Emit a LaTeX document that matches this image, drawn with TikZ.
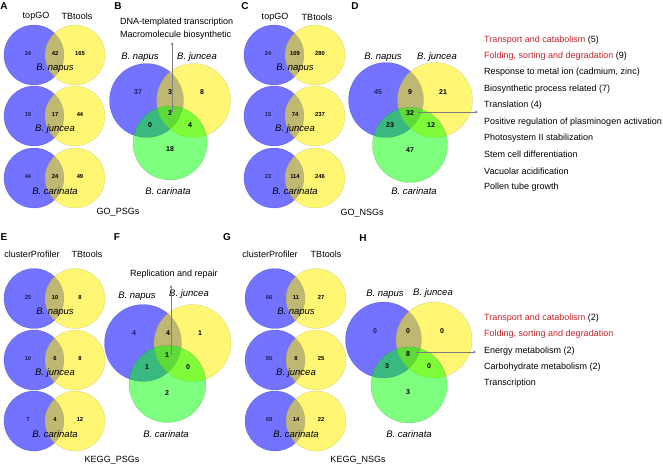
\documentclass[tikz,border=0pt]{standalone}
\usepackage{fontspec}
\setmainfont{Liberation Sans}
\usetikzlibrary{arrows.meta}

\definecolor{termred}{RGB}{190,38,44}
\definecolor{numnavy}{RGB}{30,30,95}
\definecolor{arrowgray}{RGB}{125,125,125}

\tikzset{
  setblue/.style={fill=blue, fill opacity=0.55, draw=blue!60!black, draw opacity=0.3, line width=0.4pt},
  setyellow/.style={fill=yellow, fill opacity=0.55, draw=yellow!50!black, draw opacity=0.3, line width=0.4pt},
  setgreen/.style={fill=green, fill opacity=0.5, draw=green!50!black, draw opacity=0.3, line width=0.4pt},
  panel/.style={font=\fontsize{10}{12}\selectfont\bfseries, inner sep=0pt},
  lbl/.style={font=\fontsize{9}{11}\selectfont, inner sep=0pt},
  spc/.style={font=\fontsize{9.5}{11}\selectfont\itshape, inner sep=0pt},
  numS/.style={font=\fontsize{5.8}{7}\selectfont\bfseries, inner sep=0pt},
  numL/.style={font=\fontsize{7}{8}\selectfont\bfseries, inner sep=0pt},
  term/.style={font=\fontsize{9}{11}\selectfont, inner sep=0pt, anchor=west},
  pointer/.style={-{Stealth[length=3pt, width=2.6pt]}, arrowgray, line width=0.9pt}
}

\begin{document}
\begin{tikzpicture}[x=1pt, y=-1pt]
		\useasboundingbox (0,0) rectangle (663,467);
		\fill [white] (0,0) rectangle (663,467);
		
		%two-set venn: name, x of left circle, y of row, three counts, species
		\def\pairvenn#1#2#3#4#5#6#7{%
			\draw [setblue] (#2,#3) circle [radius=30];
			\draw [setyellow] (#2+41,#3) circle [radius=30];
			\node [numS, text=numnavy] (#1-l) at (#2-6,#3-1.5) {#4};
			\node [numS] (#1-m) at (#2+21,#3-1.5) {#5};
			\node [numS] (#1-r) at (#2+46,#3-1.5) {#6};
			\node [spc] (#1-s) at (#2+21,#3+13.5) {#7};
		}
		
		%panel letters
		\node [panel] (lA) at (4,6) {A};
		\node [panel] (lB) at (118,6) {B};
		\node [panel] (lC) at (245,6) {C};
		\node [panel] (lD) at (355,6) {D};
		\node [panel] (lE) at (4,237) {E};
		\node [panel] (lF) at (117,237) {F};
		\node [panel] (lG) at (227,237) {G};
		\node [panel] (lH) at (363,238) {H};
		
		%A: GO, positively selected genes
		\node [lbl] (Atop) at (36,16) {topGO};
		\node [lbl] (Atb) at (77,16) {TBtools};
		\pairvenn{An}{34}{55}{24}{42}{165}{B. napus}
		\pairvenn{Aj}{34}{116}{19}{17}{44}{B. juncea}
		\pairvenn{Ac}{34}{178}{44}{24}{49}{B. carinata}
		\node [lbl] (GOpsg) at (118,212) {GO\_PSGs};
		
		%B: three species
		\draw [setblue] (146.5,100.5) circle [radius=37];
		\draw [setyellow] (193.5,100.5) circle [radius=37];
		\draw [setgreen] (170,143) circle [radius=37];
		\node [spc] (Bnap) at (140,57) {B. napus};
		\node [spc] (Bjun) at (197,57) {B. juncea};
		\node [spc] (Bcar) at (168,191) {B. carinata};
		\node [numL, text=numnavy] (B1) at (138,92) {37};
		\node [numL] (B2) at (170,92) {3};
		\node [numL] (B3) at (202,92) {8};
		\node [numL] (B4) at (170,113) {2};
		\node [numL] (B5) at (150,125) {0};
		\node [numL] (B6) at (190,125) {4};
		\node [numL] (B7) at (170,149) {18};
		\node [lbl, anchor=west] (Bt1) at (120,22) {DNA-templated transcription};
		\node [lbl, anchor=west] (Bt2) at (120,35) {Macromolecule biosynthetic};
		\coordinate (Bfrom) at (172,112);
		\coordinate (Bto) at (172,42);
		\draw [pointer] (Bfrom) -- (Bto);
		
		%C: GO, negatively selected genes
		\node [lbl] (Ctop) at (275,17) {topGO};
		\node [lbl] (Ctb) at (317,17) {TBtools};
		\pairvenn{Cn}{274}{55}{24}{109}{280}{B. napus}
		\pairvenn{Cj}{274}{116}{15}{74}{237}{B. juncea}
		\pairvenn{Cc}{274}{178}{22}{114}{246}{B. carinata}
		\node [lbl] (GOnsg) at (362,213) {GO\_NSGs};
		
		%D: three species
		\draw [setblue] (386,100) circle [radius=37.5];
		\draw [setyellow] (435,100) circle [radius=37.5];
		\draw [setgreen] (410,145) circle [radius=37.5];
		\node [spc] (Dnap) at (383,57) {B. napus};
		\node [spc] (Djun) at (437,57) {B. juncea};
		\node [spc] (Dcar) at (414,191) {B. carinata};
		\node [numL, text=numnavy] (D1) at (378,92) {45};
		\node [numL] (D2) at (410,92) {9};
		\node [numL] (D3) at (443,92) {21};
		\node [numL] (D4) at (410,113) {32};
		\node [numL] (D5) at (390,125) {23};
		\node [numL] (D6) at (431,125) {12};
		\node [numL] (D7) at (410,150) {47};
		\coordinate (Dfrom) at (418,112);
		\coordinate (Dto) at (478,112);
		\draw [pointer] (Dfrom) -- (Dto);
		
		%terms of panel D
		\node [term] (Dt1) at (484,40) {\textcolor{termred}{Transport and catabolism} (5)};
		\node [term] (Dt2) at (484,56) {\textcolor{termred}{Folding, sorting and degradation} (9)};
		\node [term] (Dt3) at (484,72.5) {Response to metal ion (cadmium, zinc)};
		\node [term] (Dt4) at (484,89) {Biosynthetic process related (7)};
		\node [term] (Dt5) at (484,105.5) {Translation (4)};
		\node [term] (Dt6) at (484,122) {Positive regulation of plasminogen activation};
		\node [term] (Dt7) at (484,138) {Photosystem II stabilization};
		\node [term] (Dt8) at (484,154.5) {Stem cell differentiation};
		\node [term] (Dt9) at (484,171) {Vacuolar acidification};
		\node [term] (Dt10) at (484,187) {Pollen tube growth};
		
		%E: KEGG, positively selected genes
		\node [lbl] (Ecp) at (32,254) {clusterProfiler};
		\node [lbl] (Etb) at (87,254) {TBtools};
		\pairvenn{En}{34}{298.5}{25}{10}{8}{B. napus}
		\pairvenn{Ej}{34}{360}{10}{6}{8}{B. juncea}
		\pairvenn{Ec}{34}{421}{7}{4}{12}{B. carinata}
		\node [lbl] (KEGGpsg) at (112,460) {KEGG\_PSGs};
		
		%F: three species
		\draw [setblue] (143,343) circle [radius=38.5];
		\draw [setyellow] (192.5,343) circle [radius=38.5];
		\draw [setgreen] (167.5,384) circle [radius=38.5];
		\node [spc] (Fnap) at (137,296) {B. napus};
		\node [spc] (Fjun) at (189,294) {B. juncea};
		\node [spc] (Fcar) at (166,434) {B. carinata};
		\node [numL, text=numnavy] (F1) at (134,333) {4};
		\node [numL] (F2) at (168,333) {4};
		\node [numL] (F3) at (200,333) {1};
		\node [numL] (F4) at (167,355) {1};
		\node [numL] (F5) at (147,367) {1};
		\node [numL] (F6) at (188,367) {0};
		\node [numL] (F7) at (167,393) {2};
		\node [lbl, anchor=west] (Ft1) at (130,274) {Replication and repair};
		\coordinate (Ffrom) at (171,355);
		\coordinate (Fto) at (171,285);
		\draw [pointer] (Ffrom) -- (Fto);
		
		%G: KEGG, negatively selected genes
		\node [lbl] (Gcp) at (270,254) {clusterProfiler};
		\node [lbl] (Gtb) at (326,254) {TBtools};
		\pairvenn{Gn}{275}{298.5}{66}{11}{27}{B. napus}
		\pairvenn{Gj}{275}{360}{55}{8}{25}{B. juncea}
		\pairvenn{Gc}{275}{421}{68}{14}{22}{B. carinata}
		\node [lbl] (KEGGnsg) at (358,460) {KEGG\_NSGs};
		
		%H: three species
		\draw [setblue] (383.5,340) circle [radius=38];
		\draw [setyellow] (434,340) circle [radius=38];
		\draw [setgreen] (409,385) circle [radius=38];
		\node [spc] (Hnap) at (385,294) {B. napus};
		\node [spc] (Hjun) at (433,293) {B. juncea};
		\node [spc] (Hcar) at (409,434) {B. carinata};
		\node [numL, text=numnavy] (H1) at (375,331) {0};
		\node [numL] (H2) at (408,331) {0};
		\node [numL] (H3) at (442,331) {0};
		\node [numL] (H4) at (408,354) {8};
		\node [numL] (H5) at (387,366) {3};
		\node [numL] (H6) at (429,366) {0};
		\node [numL] (H7) at (408,392) {3};
		\coordinate (Hfrom) at (416,352);
		\coordinate (Hto) at (476,352);
		\draw [pointer] (Hfrom) -- (Hto);
		
		%terms of panel H
		\node [term] (Ht1) at (484,318) {\textcolor{termred}{Transport and catabolism} (2)};
		\node [term] (Ht2) at (484,334.5) {\textcolor{termred}{Folding, sorting and degradation}};
		\node [term] (Ht3) at (484,351) {Energy metabolism (2)};
		\node [term] (Ht4) at (484,367) {Carbohydrate metabolism (2)};
		\node [term] (Ht5) at (484,383) {Transcription};
	\end{tikzpicture}
\end{document}
